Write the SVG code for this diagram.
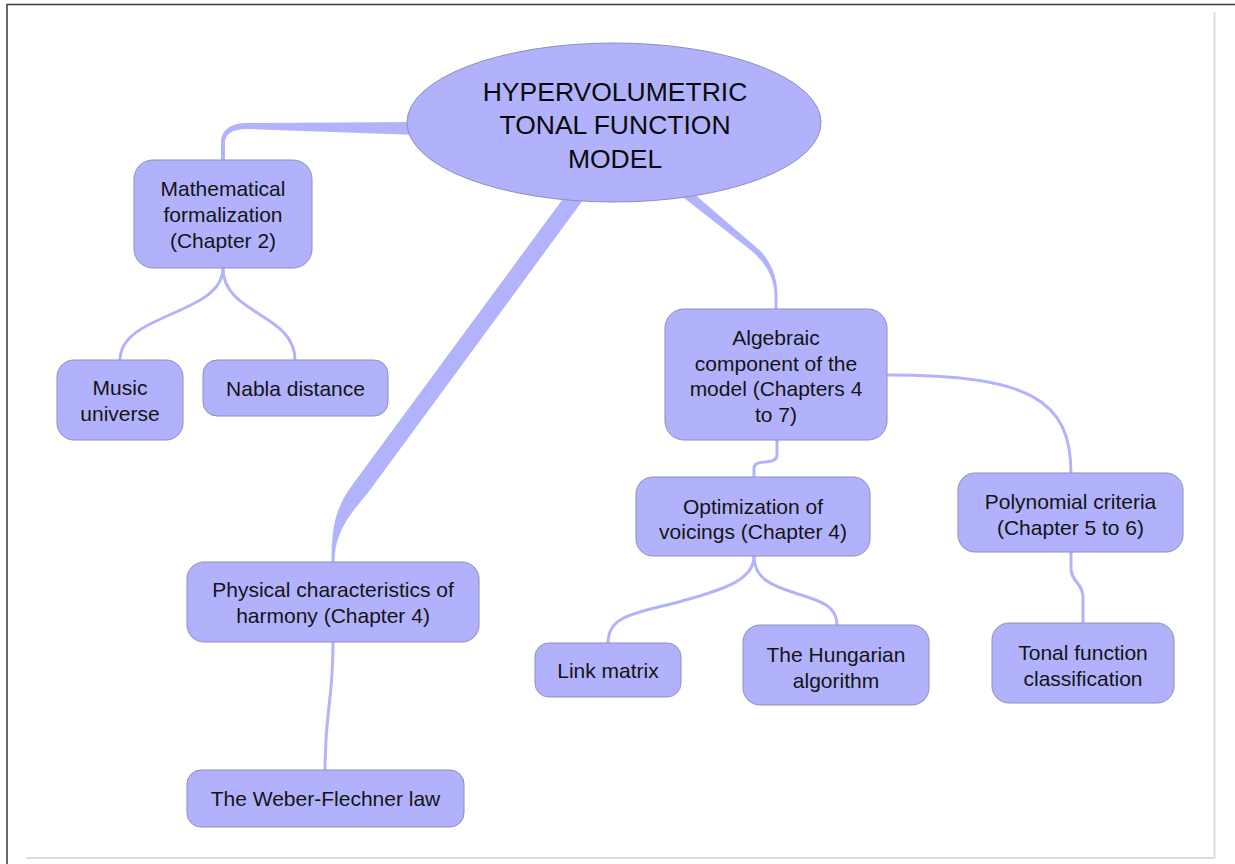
<svg xmlns="http://www.w3.org/2000/svg" width="1235" height="864" viewBox="0 0 1235 864">
  <style>
    .frame-dark { stroke: #3a3a3a; stroke-width: 1.5; fill: none; }
    .frame-light { stroke: #dcdcdc; stroke-width: 2; fill: none; }
    .wire { fill: none; stroke: #b3b3fd; stroke-width: 3; stroke-linecap: round; }
    .band { fill: #b3b3fd; stroke: none; }
    .box { fill: #b2b2fc; stroke: #8e8eb8; stroke-width: 1; }
    .label { font-family: "Liberation Sans", Arial, Helvetica, sans-serif; font-size: 21px; fill: #141414; text-anchor: middle; }
    .title { font-family: "Liberation Sans", Arial, Helvetica, sans-serif; font-size: 26.5px; fill: #0a0a0a; text-anchor: middle; }
  </style>

  <rect width="1235" height="864" fill="#ffffff"/>

  <!-- page frame -->
  <g id="frame">
    <path class="frame-dark" d="M7,864 V4.5 H1235"/>
    <path class="frame-light" d="M1214.5,12 V858 M26,858 H1215"/>
  </g>

  <!-- connectors -->
  <g id="connectors">
    <!-- tapered main branches from the central topic -->
    <path class="band" d="M416,122 L246,123 C232,123 221,130 221,142 L221,161 L225,161 L225,143 C225,134 232,129 247,129 L416,135 Z"/>
    <path class="band" d="M565,196 L353,484 C337,506 331.5,522 331.5,562 L334.5,562 C334.5,528 356,508 370,490 L586,196 Z"/>
    <path class="band" d="M679,194 L753,252 C762,260 774.5,275 774.5,295 L774.5,310 L777.5,310 L777.5,295 C777.5,272 766,255 757,248 L685,186 Z"/>

    <!-- thin sub-branches -->
    <path class="wire" d="M223,268 C223,315 120,313 120,360"/>
    <path class="wire" d="M223,268 C223,315 295,313 295,360"/>
    <path class="wire" d="M333,642 C333,706 325,706 325,770"/>
    <path class="wire" d="M777,440 L777,455 C777,466 754,458 754,468 L754,477"/>
    <path class="wire" d="M887,375 C1030,375 1071,400 1071,473"/>
    <path class="wire" d="M754,556 C754,578 730,588 682,601 S608,615 608,643"/>
    <path class="wire" d="M754,556 C754,578 770,585 795,593 S837,605 837,625"/>
    <path class="wire" d="M1071,552 L1071,568 C1071,582 1083,583 1083,597 L1083,623"/>
  </g>

  <g id="central-topic">
    <ellipse class="box" cx="614" cy="122.5" rx="207" ry="79.5"/>
    <text class="title" x="615" y="100.5">HYPERVOLUMETRIC</text>
    <text class="title" x="615" y="134">TONAL FUNCTION</text>
    <text class="title" x="615" y="167.5">MODEL</text>
  </g>

  <g id="mathematical-formalization">
    <rect class="box" x="134" y="160" width="178" height="108" rx="19"/>
    <text class="label" x="223" y="195.5">Mathematical</text>
    <text class="label" x="223" y="221.5">formalization</text>
    <text class="label" x="223" y="247.5">(Chapter 2)</text>
  </g>

  <g id="music-universe">
    <rect class="box" x="57" y="360" width="126" height="80" rx="17"/>
    <text class="label" x="120" y="395">Music</text>
    <text class="label" x="120" y="421">universe</text>
  </g>

  <g id="nabla-distance">
    <rect class="box" x="203" y="360" width="185" height="56" rx="14"/>
    <text class="label" x="295.5" y="395.5">Nabla distance</text>
  </g>

  <g id="physical-characteristics">
    <rect class="box" x="187" y="562" width="292" height="80" rx="17"/>
    <text class="label" x="333" y="597">Physical characteristics of</text>
    <text class="label" x="333" y="623">harmony (Chapter 4)</text>
  </g>

  <g id="weber-flechner">
    <rect class="box" x="187" y="770" width="277" height="57" rx="14"/>
    <text class="label" x="325.5" y="806">The Weber-Flechner law</text>
  </g>

  <g id="algebraic-component">
    <rect class="box" x="665" y="309" width="222" height="131" rx="19"/>
    <text class="label" x="776" y="345">Algebraic</text>
    <text class="label" x="776" y="370.5">component of the</text>
    <text class="label" x="776" y="396">model (Chapters 4</text>
    <text class="label" x="776" y="421.5">to 7)</text>
  </g>

  <g id="optimization-of-voicings">
    <rect class="box" x="636" y="477" width="234" height="79" rx="17"/>
    <text class="label" x="753" y="513.5">Optimization of</text>
    <text class="label" x="753" y="539">voicings (Chapter 4)</text>
  </g>

  <g id="polynomial-criteria">
    <rect class="box" x="958" y="473" width="225" height="79" rx="17"/>
    <text class="label" x="1070.5" y="508.5">Polynomial criteria</text>
    <text class="label" x="1070.5" y="534.5">(Chapter 5 to 6)</text>
  </g>

  <g id="link-matrix">
    <rect class="box" x="535" y="643" width="146" height="54" rx="14"/>
    <text class="label" x="608" y="677.5">Link matrix</text>
  </g>

  <g id="hungarian-algorithm">
    <rect class="box" x="743" y="625" width="186" height="80" rx="17"/>
    <text class="label" x="836" y="661.5">The Hungarian</text>
    <text class="label" x="836" y="687.5">algorithm</text>
  </g>

  <g id="tonal-function-classification">
    <rect class="box" x="992" y="623" width="182" height="80" rx="17"/>
    <text class="label" x="1083" y="659.5">Tonal function</text>
    <text class="label" x="1083" y="685.5">classification</text>
  </g>
</svg>
